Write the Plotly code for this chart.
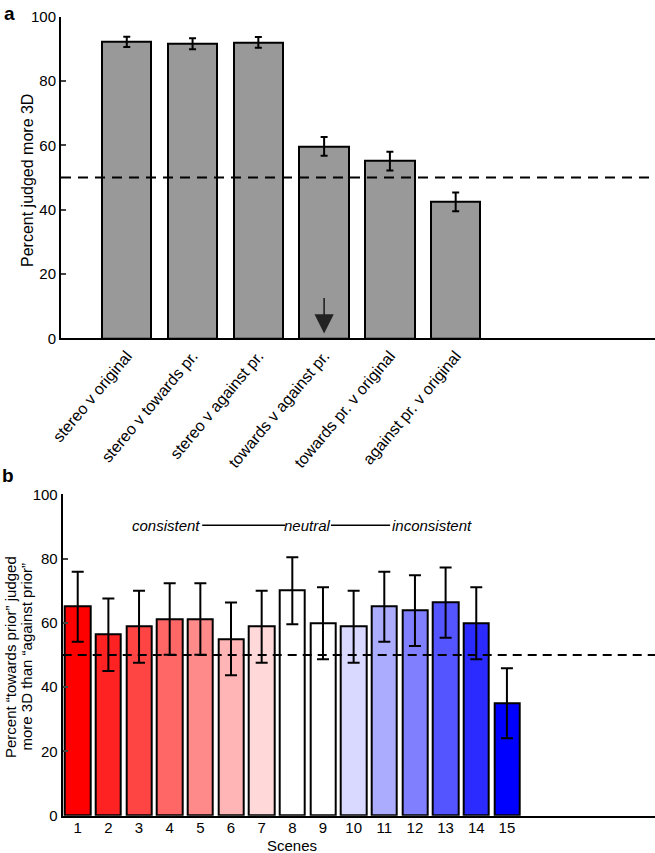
import plotly.graph_objects as go

# ---- Panel a data ----
comparisons = ["stereo v original", "stereo v towards pr.", "stereo v against pr.",
               "towards v against pr.", "towards pr. v original", "against pr. v original"]
pct_a = [92.2, 91.6, 92.0, 59.7, 55.1, 42.4]
err_a = [1.6, 1.7, 1.65, 2.9, 2.9, 2.9]

# ---- Panel b data ----
scenes = list(range(1, 16))
scene_labels = [str(s) for s in scenes]
pct_b = [65.0, 56.3, 58.8, 61.2, 61.2, 55.0, 58.8, 70.0, 59.9, 58.8, 65.0, 63.8, 66.3, 59.9, 35.0]
err_b = [10.9, 11.3, 11.2, 11.1, 11.1, 11.3, 11.2, 10.4, 11.2, 11.2, 10.9, 11.0, 10.9, 11.2, 10.9]
colors_b = ["#ff0000", "#ff2222", "#ff4444", "#ff6666", "#ff8a8a", "#ffb5b5", "#ffd9d9",
            "#ffffff", "#ffffff", "#d9d9ff", "#acacff", "#8080ff", "#5555ff", "#2b2bff", "#0000ff"]
chance = 50

pos_a = list(range(1, len(comparisons) + 1))
FONT = "Liberation Sans, Arial, Helvetica, sans-serif"
W, H = 655, 853

fig = go.Figure()
fig.add_trace(go.Bar(
    x=pos_a, y=pct_a, width=0.75, xaxis="x", yaxis="y",
    marker=dict(color="#999999", line=dict(color="black", width=2)),
    error_y=dict(type="data", array=err_a, color="black", thickness=2, width=3.5),
    showlegend=False, hoverinfo="skip"))
fig.add_trace(go.Bar(
    x=scenes, y=pct_b, width=0.83, xaxis="x2", yaxis="y2",
    marker=dict(color=colors_b, line=dict(color="black", width=2)),
    error_y=dict(type="data", array=err_b, color="black", thickness=2, width=6),
    showlegend=False, hoverinfo="skip"))

base = dict(showline=True, linecolor="black", linewidth=2, showgrid=False,
            zeroline=False, automargin=False)
tf15 = dict(family=FONT, size=15, color="black")

fig.update_layout(
    width=W, height=H, margin=dict(l=0, r=0, t=0, b=0, autoexpand=False),
    paper_bgcolor="white", plot_bgcolor="white",
    font=dict(family=FONT, size=15, color="black"),
    bargap=0,
    xaxis=dict(domain=[61 / W, 1.0], range=[0, 9.03], anchor="y",
               tickvals=pos_a, ticktext=comparisons, tickangle=-50, ticks="",
               tickfont=dict(family=FONT, size=16, color="black"), **base),
    yaxis=dict(domain=[1 - 338.3 / H, 1 - 16.7 / H], range=[0, 100], anchor="x",
               tickvals=[0, 20, 40, 60, 80, 100], ticks="inside", ticklen=5, tickwidth=1.5,
               tickfont=tf15, **base),
    xaxis2=dict(domain=[62.7 / W, 1.0], range=[0.51, 19.83], anchor="y2",
                tickvals=scenes, ticktext=scene_labels, ticks="", tickfont=tf15,
                ticklabelstandoff=-3, **base),
    yaxis2=dict(domain=[1 - 815.7 / H, 1 - 494.3 / H], range=[0, 100], anchor="x2",
                tickvals=[0, 20, 40, 60, 80, 100], ticks="inside", ticklen=5, tickwidth=1.5,
                tickfont=tf15, **base),
)

# chance lines
for yref, xref, dash in [("y", "x domain", "10px,7px"), ("y2", "x2 domain", "9px,6px")]:
    fig.add_shape(type="line", xref=xref, yref=yref, x0=0, x1=1, y0=chance, y1=chance,
                  line=dict(color="black", width=2, dash=dash), layer="above")

# arrow in panel a
fig.add_annotation(x=4, y=1.5, xref="x", yref="y", ax=4, ay=13, axref="x", ayref="y",
                   text="", showarrow=True, arrowhead=2, arrowsize=2.4, arrowwidth=1.6,
                   arrowcolor="#222222")

# consistency labels in panel b
fig.add_annotation(x=5.06, y=90.4, xref="x2", yref="y2", text="<i>consistent</i>",
                   showarrow=False, xanchor="right", font=dict(family=FONT, size=15))
fig.add_annotation(x=8.51, y=90.4, xref="x2", yref="y2", text="<i>neutral</i>",
                   showarrow=False, xanchor="center", font=dict(family=FONT, size=15))
fig.add_annotation(x=11.19, y=90.4, xref="x2", yref="y2", text="<i>inconsistent</i>",
                   showarrow=False, xanchor="left", font=dict(family=FONT, size=15))
for x0, x1 in [(5.06, 7.77), (9.26, 11.19)]:
    fig.add_shape(type="line", xref="x2", yref="y2", x0=x0, x1=x1, y0=90.4, y1=90.4,
                  line=dict(color="black", width=1.5))

# axis titles as annotations (precise placement)
fig.add_annotation(x=27 / W, y=1 - 181 / H, xref="paper", yref="paper",
                   text="Percent judged more 3D", textangle=-90, showarrow=False,
                   xanchor="center", yanchor="middle", font=dict(family=FONT, size=16))
fig.add_annotation(x=10 / W, y=1 - 657 / H, xref="paper", yref="paper",
                   text="Percent \u201ctowards prior\u201d judged", textangle=-90, showarrow=False,
                   xanchor="center", yanchor="middle", font=dict(family=FONT, size=15))
fig.add_annotation(x=25.5 / W, y=1 - 657 / H, xref="paper", yref="paper",
                   text="more 3D than \u201cagainst prior\u201d", textangle=-90, showarrow=False,
                   xanchor="center", yanchor="middle", font=dict(family=FONT, size=15))
fig.add_annotation(x=8, y=1 - 845 / H, xref="x2", yref="paper", text="Scenes",
                   showarrow=False, xanchor="center", yanchor="middle",
                   font=dict(family=FONT, size=15))

# panel letters
fig.add_annotation(x=2 / W, y=1 - 14 / H, xref="paper", yref="paper", text="<b>a</b>",
                   showarrow=False, xanchor="left", yanchor="middle",
                   font=dict(family=FONT, size=19))
fig.add_annotation(x=0, y=1 - 476 / H, xref="paper", yref="paper", text="<b>b</b>",
                   showarrow=False, xanchor="left", yanchor="middle",
                   font=dict(family=FONT, size=19))

fig.write_html("out.html", config={"displayModeBar": False},
               post_script="document.body.style.margin='0';")
